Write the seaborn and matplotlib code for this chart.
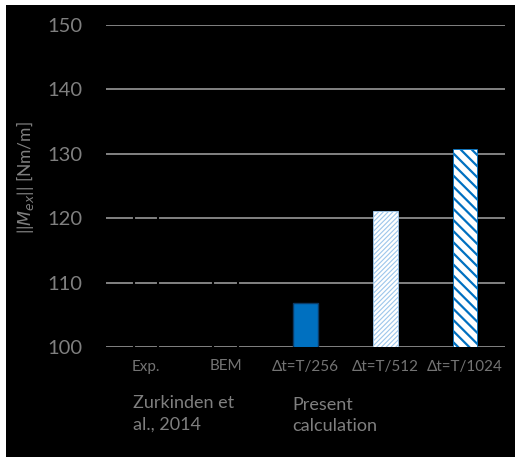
import matplotlib
matplotlib.use("Agg")
import matplotlib.pyplot as plt
import seaborn as sns
from matplotlib.patches import Rectangle

# values
categories = ["Exp.", "BEM", "Δt=T/256", "Δt=T/512", "Δt=T/1024"]
values = [125.0, 115.0, 106.8, 121.1, 130.7]
y_ticks = [100, 110, 120, 130, 140, 150]
group_labels = ["Zurkinden et\nal., 2014", "Present\ncalculation"]

sns.set_style("dark")
plt.rcParams['font.family'] = ['Lato', 'DejaVu Sans']
plt.rcParams['mathtext.fontset'] = 'dejavusans'

fig = plt.figure(figsize=(5.15, 4.57), dpi=100, facecolor="white")
# black panel, small white margin on top and left
fig.patches.append(Rectangle((6/515, 0), 1, (457-5)/457, transform=fig.transFigure,
                             facecolor="black", edgecolor="none", zorder=-10))

ax = fig.add_axes([106/515, (457-347)/457, 399/515, 322/457])
ax.set_facecolor("black")

sns.barplot(x=categories, y=values, hue=categories, legend=False,
            palette=["black", "black", "#0070C0", "white", "white"],
            width=0.31, saturation=1, ax=ax, zorder=3)

# style each bar like the original
styles = [
    dict(fc="none", ec="black", hatch=None, lw=1.5),
    dict(fc="none", ec="black", hatch=None, lw=1.5),
    dict(fc="#0070C0", ec="#0B3A66", hatch=None, lw=1.0),
    dict(fc="white", ec="#9DC6EB", hatch="///////", lw=0.6),
    dict(fc="white", ec="#0070C0", hatch="\\\\\\", lw=0.6),
]
hatch_lw = [None, None, None, 0.8, 1.6]
for bar, st, hl in zip(ax.patches, styles, hatch_lw):
    bar.set_facecolor(st["fc"])
    bar.set_edgecolor(st["ec"])
    bar.set_linewidth(st["lw"])
    if st["hatch"]:
        bar.set_hatch(st["hatch"])
        if hasattr(bar, "set_hatch_linewidth"):
            bar.set_hatch_linewidth(hl)

ax.set_ylim(100, 150)
ax.set_xlim(-0.5, 4.5)
ax.set_yticks(y_ticks)
ax.grid(axis="y", color="#8c8c8c", linewidth=1.3, zorder=0)
ax.grid(axis="x", visible=False)
ax.set_axisbelow(True)
for s in ax.spines.values():
    s.set_visible(False)

ax.tick_params(axis="y", length=0, pad=17, labelsize=14.5, labelcolor="#7f7f7f")
ax.tick_params(axis="x", length=0, pad=9, labelsize=11, labelcolor="#747474")

fig.text(25/515, 1 - 178/457, "||$M_{ex}$|| [Nm/m]", rotation=90, ha="center",
         va="center", fontsize=12.5, color="#7f7f7f")

fig.text(133/515, 1 - 395/457, group_labels[0], ha="left", va="top",
         fontsize=13, color="#7f7f7f", linespacing=1.4)
fig.text(292/515, 1 - 397/457, group_labels[1], ha="left", va="top",
         fontsize=13, color="#7f7f7f", linespacing=1.4)

fig.savefig("out.png", dpi=100, facecolor="white")
